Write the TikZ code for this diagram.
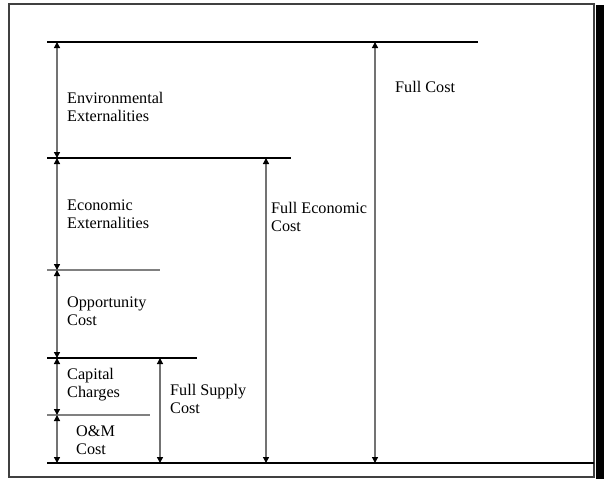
\documentclass[tikz,border=0pt]{standalone}
\usepackage{fontspec}
\setmainfont{Liberation Serif}
\usetikzlibrary{arrows.meta}

\begin{document}
\begin{tikzpicture}[x=1pt,y=-1pt,
  shelf/.style={line width=2.2pt},
  split/.style={line width=1.4pt,black!50},
  span/.style={line width=1.3pt,black!55,
    {Triangle[black,length=6pt,width=6pt]}-{Triangle[black,length=6pt,width=6pt]}},
  lbl/.style={anchor=base west,inner sep=0pt,align=left,
    font=\fontsize{16.2}{17.5}\selectfont}]
  \useasboundingbox (0,0) rectangle (610,479);
  % frame
  \draw[black!75,line width=2pt] (9,4) rectangle (594,477);
  \fill (596,5) rectangle (604,479);
  % cost levels
  \coordinate (full) at (47,42);
  \coordinate (econ) at (47,158);
  \coordinate (opp) at (47,270);
  \coordinate (supply) at (47,358);
  \coordinate (om) at (47,415);
  \coordinate (base) at (47,463);
  \draw[shelf] (full) -- ++(431,0);
  \draw[shelf] (econ) -- ++(244,0);
  \draw[split] (opp) -- ++(113,0);
  \draw[shelf] (supply) -- ++(150,0);
  \draw[split] (om) -- ++(103,0);
  \draw[shelf] (base) -- (594,463);
  % columns of arrows
  \coordinate (c1) at (57,0);
  \coordinate (c2) at (160,0);
  \coordinate (c3) at (266,0);
  \coordinate (c4) at (375,0);
  \draw[span] (c1 |- full) -- (c1 |- econ);
  \draw[span] (c1 |- econ) -- (c1 |- opp);
  \draw[span] (c1 |- opp) -- (c1 |- supply);
  \draw[span] (c1 |- supply) -- (c1 |- om);
  \draw[span] (c1 |- om) -- (c1 |- base);
  \draw[span] (c2 |- supply) -- (c2 |- base);
  \draw[span] (c3 |- econ) -- (c3 |- base);
  \draw[span] (c4 |- full) -- (c4 |- base);
  % labels (base = last line)
  \node[lbl] (envext) at (67,121) {Environmental\\Externalities};
  \node[lbl] (ecoext) at (67,228) {Economic\\Externalities};
  \node[lbl] (oppcost) at (67,325) {Opportunity\\Cost};
  \node[lbl] (capchg) at (67,397) {Capital\\Charges};
  \node[lbl] (omcost) at (76,454) {O\&M\\Cost};
  \node[lbl] (fsc) at (170,413) {Full Supply\\Cost};
  \node[lbl] (fec) at (271,231) {Full Economic\\Cost};
  \node[lbl] (fc) at (395,92) {Full Cost};
\end{tikzpicture}
\end{document}
